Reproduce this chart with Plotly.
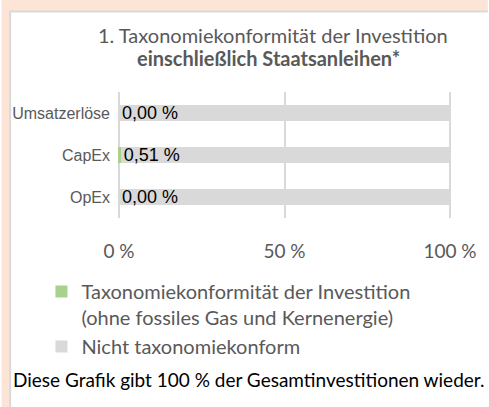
import plotly.graph_objects as go

categories = ["Umsatzerlöse", "CapEx", "OpEx"]
aligned = [0.00, 0.51, 0.00]
not_aligned = [100.0, 99.49, 100.0]
aligned_labels = ["0,00 %", "0,51 %", "0,00 %"]
x_tickvals = [0, 50, 100]
x_ticktext = ["0 %", "50 %", "100 %"]
legend_names = ["Taxonomiekonformität der Investition<br>(ohne fossiles Gas und Kernenergie)",
                "Nicht taxonomiekonform"]
title_line1 = "1. Taxonomiekonformität der Investition"
title_line2 = "einschließlich Staatsanleihen*"
footer = "Diese Grafik gibt 100 % der Gesamtinvestitionen wieder."

W, H = 489, 407
XMIN, XMAX = -0.6, 100.6
X0PX, X100PX = 118, 451
scale = (X100PX - X0PX) / 100.0
L = X0PX + XMIN * scale
Rpx = X100PX + (XMAX - 100) * scale
R = W - Rpx
T, B = 92, 189
PW, PH = W - L - R, H - T - B

def px(x):
    return (x - L) / PW

def py(y):
    return 1 - (y - T) / PH

GREEN = "#A9D18E"
GREY = "#D9D9D9"
TXT = "#595959"

fig = go.Figure()
fig.add_trace(go.Bar(
    y=categories, x=aligned, orientation="h", name=legend_names[0],
    marker=dict(color=GREEN, line=dict(width=0)),
    width=0.4,
))
fig.add_trace(go.Bar(
    y=categories, x=not_aligned, orientation="h", name=legend_names[1],
    marker=dict(color=GREY, line=dict(width=0)),
    text=aligned_labels, textposition="inside", insidetextanchor="start",
    textangle=0, constraintext="none",
    textfont=dict(family="Liberation Sans", size=18, color="#000000"),
    width=0.4,
))

shapes = [
    dict(type="rect", xref="paper", yref="paper", x0=px(0), x1=px(W), y0=py(0), y1=py(11),
         fillcolor="#FCE4D6", line=dict(width=0), layer="below"),
    dict(type="rect", xref="paper", yref="paper", x0=px(0), x1=px(8), y0=py(0), y1=py(H),
         fillcolor="#FCE4D6", line=dict(width=0), layer="below"),
    dict(type="line", xref="paper", yref="paper", x0=px(8), x1=px(W), y0=py(11.5), y1=py(11.5),
         line=dict(color="#D9D9D9", width=2), layer="below"),
    dict(type="line", xref="paper", yref="paper", x0=px(8.5), x1=px(8.5), y0=py(11), y1=py(H),
         line=dict(color="#D9D9D9", width=2), layer="below"),
]

annotations = [
    dict(text=title_line1, x=px(273), y=py(35), xref="paper", yref="paper", showarrow=False,
         xanchor="center", yanchor="middle", font=dict(family="Lato", size=20, color=TXT)),
    dict(text="<b>" + title_line2 + "</b>", x=px(268), y=py(58), xref="paper", yref="paper",
         showarrow=False, xanchor="center", yanchor="middle",
         font=dict(family="Lato", size=20, color=TXT)),
    dict(text=footer, x=px(9), y=py(379), xref="paper", yref="paper", showarrow=False,
         xanchor="left", yanchor="middle", font=dict(family="Lato", size=19, color="#000000")),
]

fig.update_layout(
    width=W, height=H,
    margin=dict(l=L, r=R, t=T, b=B, pad=0),
    paper_bgcolor="white", plot_bgcolor="white",
    barmode="stack",
    shapes=shapes, annotations=annotations,
    showlegend=True,
    legend=dict(orientation="v", x=px(40), y=py(272), xanchor="left", yanchor="top",
                valign="top",
                font=dict(family="Lato", size=20, color=TXT), traceorder="normal",
                bgcolor="rgba(0,0,0,0)", itemclick=False, tracegroupgap=0),
    xaxis=dict(range=[XMIN, XMAX], tickvals=x_tickvals, ticktext=x_ticktext,
               showgrid=True, gridcolor=GREY, gridwidth=2, zeroline=False,
               showline=False, ticks="", ticklabelstandoff=20,
               tickfont=dict(family="Lato", size=19, color=TXT), fixedrange=True),
    yaxis=dict(categoryorder="array", categoryarray=categories, autorange="reversed",
               showgrid=False, zeroline=False, showline=False, ticks="",
               ticklabelstandoff=6,
               tickfont=dict(family="Liberation Sans", size=16, color=TXT), fixedrange=True),
    uniformtext=dict(mode=False),
)

fig.write_html("out.html")
